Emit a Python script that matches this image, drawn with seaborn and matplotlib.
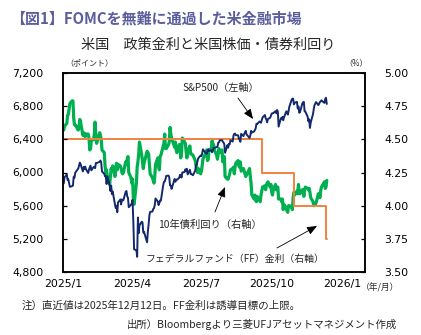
import numpy as np
import pandas as pd
import matplotlib
matplotlib.use("Agg")
import matplotlib.pyplot as plt
import seaborn as sns

# ---- data -------------------------------------------------------------
market_holidays = ["2025-01-09", "2025-01-20", "2025-02-17", "2025-04-18",
                   "2025-05-26", "2025-06-19", "2025-07-04", "2025-09-01",
                   "2025-11-27"]

# S&P500 daily close (points), month by month
sp500 = (
    [5868, 5942, 5975, 5909, 5918, 5827, 5836, 5842, 5950, 5937, 5997, 6049, 6086, 6119, 6101, 6012, 6067, 6039, 6071, 6040]
    + [5994, 6037, 6061, 6083, 6026, 6066, 6068, 6052, 6115, 6114, 6129, 6144, 6117, 6013, 5983, 5955, 5956, 5861, 5955]
    + [5850, 5778, 5842, 5739, 5770, 5615, 5572, 5599, 5521, 5639, 5675, 5615, 5675, 5663, 5668, 5767, 5777, 5712, 5693, 5581, 5612]
    + [5633, 5671, 5397, 5074, 5062, 4983, 5457, 5268, 5363, 5406, 5397, 5276, 5283, 5158, 5288, 5376, 5485, 5525, 5529, 5561, 5569]
    + [5604, 5687, 5650, 5607, 5631, 5664, 5660, 5844, 5886, 5892, 5917, 5958, 5963, 5940, 5845, 5842, 5802, 5922, 5889, 5913, 5912]
    + [5936, 5970, 5971, 5939, 6000, 6006, 6038, 6022, 6045, 5977, 6033, 5982, 5981, 5967, 6025, 6092, 6092, 6141, 6173, 6205]
    + [6198, 6227, 6279, 6230, 6226, 6263, 6280, 6259, 6269, 6244, 6264, 6297, 6297, 6305, 6309, 6359, 6363, 6388, 6390, 6371, 6362, 6339]
    + [6238, 6329, 6299, 6345, 6340, 6389, 6374, 6446, 6466, 6469, 6450, 6449, 6411, 6396, 6370, 6467, 6439, 6466, 6481, 6502, 6460]
    + [6416, 6448, 6502, 6482, 6495, 6512, 6532, 6588, 6584, 6615, 6607, 6600, 6632, 6664, 6693, 6657, 6638, 6605, 6644, 6661, 6688]
    + [6711, 6715, 6716, 6740, 6714, 6754, 6735, 6553, 6655, 6644, 6671, 6630, 6664, 6736, 6735, 6699, 6738, 6792, 6875, 6891, 6890, 6822, 6840]
    + [6852, 6772, 6796, 6720, 6729, 6832, 6846, 6851, 6738, 6734, 6672, 6617, 6642, 6538, 6603, 6705, 6766, 6813, 6849]
    + [6813, 6829, 6850, 6857, 6870, 6846, 6840, 6887, 6901, 6827]
)

# US 10-year Treasury yield (%), month by month
ust10y = (
    [4.57, 4.60, 4.62, 4.68, 4.69, 4.77, 4.79, 4.79, 4.66, 4.61, 4.61, 4.57, 4.60, 4.65, 4.63, 4.53, 4.55, 4.54, 4.52, 4.54]
    + [4.54, 4.51, 4.42, 4.43, 4.49, 4.50, 4.54, 4.63, 4.52, 4.47, 4.55, 4.53, 4.50, 4.42, 4.40, 4.30, 4.25, 4.27, 4.21]
    + [4.16, 4.22, 4.28, 4.26, 4.30, 4.22, 4.28, 4.32, 4.27, 4.31, 4.30, 4.28, 4.25, 4.24, 4.25, 4.33, 4.31, 4.35, 4.37, 4.25, 4.21]
    + [4.17, 4.20, 4.06, 4.01, 4.17, 4.29, 4.33, 4.39, 4.48, 4.38, 4.33, 4.28, 4.32, 4.41, 4.40, 4.39, 4.32, 4.24, 4.21, 4.19, 4.17]
    + [4.22, 4.31, 4.36, 4.30, 4.27, 4.37, 4.38, 4.45, 4.47, 4.54, 4.43, 4.43, 4.46, 4.48, 4.59, 4.54, 4.51, 4.44, 4.48, 4.42, 4.40]
    + [4.46, 4.46, 4.36, 4.39, 4.51, 4.48, 4.47, 4.41, 4.36, 4.41, 4.45, 4.39, 4.39, 4.38, 4.34, 4.30, 4.29, 4.25, 4.28, 4.24]
    + [4.26, 4.30, 4.35, 4.40, 4.42, 4.34, 4.35, 4.42, 4.43, 4.49, 4.46, 4.46, 4.42, 4.38, 4.35, 4.39, 4.43, 4.40, 4.42, 4.33, 4.37, 4.37]
    + [4.22, 4.20, 4.20, 4.22, 4.24, 4.27, 4.28, 4.29, 4.24, 4.29, 4.32, 4.34, 4.30, 4.29, 4.33, 4.26, 4.28, 4.26, 4.24, 4.22, 4.23]
    + [4.28, 4.22, 4.17, 4.08, 4.05, 4.08, 4.04, 4.03, 4.07, 4.04, 4.03, 4.08, 4.11, 4.14, 4.15, 4.12, 4.15, 4.17, 4.18, 4.14, 4.16]
    + [4.10, 4.08, 4.12, 4.16, 4.12, 4.13, 4.14, 4.05, 4.05, 4.03, 4.05, 3.97, 4.01, 3.98, 3.96, 3.95, 4.00, 4.00, 3.99, 3.97, 4.06, 4.10, 4.08]
    + [4.11, 4.09, 4.16, 4.09, 4.09, 4.12, 4.12, 4.07, 4.12, 4.14, 4.13, 4.12, 4.13, 4.10, 4.06, 4.03, 4.00, 4.00, 4.02]
    + [4.09, 4.09, 4.06, 4.11, 4.14, 4.17, 4.18, 4.13, 4.14, 4.19]
)

# Fed funds target (upper bound, %): effective dates of each level
ff_dates = ["2025-01-02", "2025-09-18", "2025-10-30", "2025-12-11"]
ff_levels = [4.50, 4.25, 4.00, 3.75]

xtick_dates = ["2025-01-01", "2025-04-01", "2025-07-01", "2025-10-01", "2026-01-01"]
xtick_labels = ["2025/1", "2025/4", "2025/7", "2025/10", "2026/1"]
left_ticks = [4800, 5200, 5600, 6000, 6400, 6800, 7200]
right_ticks = [3.50, 3.75, 4.00, 4.25, 4.50, 4.75, 5.00]

# ---- frames -----------------------------------------------------------
days = pd.bdate_range("2025-01-02", "2025-12-12")
days = days[~days.isin(pd.to_datetime(market_holidays))]
assert len(days) == len(sp500) == len(ust10y), (len(days), len(sp500), len(ust10y))

df = pd.DataFrame({"date": days, "sp500": sp500, "ust10y": ust10y})
ff = pd.Series(ff_levels, index=pd.to_datetime(ff_dates)).reindex(days, method="ffill")
df["ff"] = ff.values

# ---- style ------------------------------------------------------------
sns.set_style("white")
plt.rcParams["font.family"] = ["DejaVu Sans", "Noto Sans CJK JP"]
JP = ["Noto Sans CJK JP", "DejaVu Sans"]

NAVY = "#13296b"
GREEN = "#00b050"
ORANGE = "#f4813f"

fig = plt.figure(figsize=(4.21, 3.35), dpi=100)
W, H = 421, 335
L, R, T, B = 63, 365, 73, 272
ax = fig.add_axes([L / W, 1 - B / H, (R - L) / W, (B - T) / H])
ax2 = ax.twinx()

sns.lineplot(data=df, x="date", y="sp500", ax=ax, color=NAVY, linewidth=1.4, legend=False)
sns.lineplot(data=df, x="date", y="ust10y", ax=ax2, color=GREEN, linewidth=2.3, legend=False)
sns.lineplot(data=df, x="date", y="ff", ax=ax2, color=ORANGE, linewidth=1.4,
             drawstyle="steps-post", legend=False)

ax.set_xlim(pd.Timestamp("2025-01-01"), pd.Timestamp("2026-01-31"))
ax.set_ylim(4800, 7200)
ax2.set_ylim(3.5, 5.0)

ax.set_xticks(pd.to_datetime(xtick_dates))
ax.set_xticklabels(xtick_labels, fontsize=7.8)
ax.set_yticks(left_ticks)
ax.set_yticklabels([f"{v:,}" for v in left_ticks], fontsize=7.8)
ax2.set_yticks(right_ticks)
ax2.set_yticklabels([f"{v:.2f}" for v in right_ticks], fontsize=7.8)

for a in (ax, ax2):
    a.set_xlabel("")
    a.set_ylabel("")
    a.grid(False)
    for s in a.spines.values():
        s.set_color("black")
        s.set_linewidth(1.1)
ax.tick_params(axis="both", direction="in", length=3, width=0.9, colors="black",
               labelcolor="black", pad=5)
ax.tick_params(axis="y", pad=14)
ax2.tick_params(axis="y", direction="in", length=3, width=0.9, colors="black",
                labelcolor="black", pad=14)
ax.set_zorder(ax2.get_zorder() + 1)
ax.patch.set_visible(False)

# ---- annotations ------------------------------------------------------
arrow = dict(arrowstyle="-|>,head_length=0.6,head_width=0.25", color="black",
             lw=0.6, shrinkA=0, shrinkB=0)

def px(x, y):
    return (x / W, 1 - y / H)

fig.text(*px(182, 88), "S&P500（左軸）", family=JP, fontsize=7.3, va="center", ha="left")
ax.annotate("", xy=px(253, 119), xytext=px(238, 98), xycoords="figure fraction",
            textcoords="figure fraction", arrowprops=arrow)
fig.text(*px(158, 225), "10年債利回り（右軸）", family=JP, fontsize=7.4, va="center", ha="left")
ax.annotate("", xy=px(225, 187), xytext=px(215, 212), xycoords="figure fraction",
            textcoords="figure fraction", arrowprops=arrow)
fig.text(*px(146, 259), "フェデラルファンド（FF）金利（右軸）", family=JP, fontsize=7.1,
         va="center", ha="left")
ax.annotate("", xy=px(317, 226), xytext=px(277, 248), xycoords="figure fraction",
            textcoords="figure fraction", arrowprops=arrow)

# ---- titles and notes -------------------------------------------------
fig.text(*px(10, 18), "【図1】FOMCを無難に通過した米金融市場", family=JP, fontsize=10.8,
         fontweight="bold", color="#5b5e9c", va="center", ha="left")
fig.text(*px(208, 45), "米国　政策金利と米国株価・債券利回り", family=JP, fontsize=10.2,
         va="center", ha="center")
fig.text(*px(89, 63), "（ポイント）", family=JP, fontsize=5.8, va="center", ha="center")
fig.text(*px(356, 63), "（%）", family=JP, fontsize=5.8, va="center", ha="center")
fig.text(*px(380, 288), "（年/月）", family=JP, fontsize=6.3, va="center", ha="center")
fig.text(*px(22, 306), "注）直近値は2025年12月12日。FF金利は誘導目標の上限。", family=JP,
         fontsize=7.6, va="center", ha="left")
fig.text(*px(397, 325), "出所）Bloombergより三菱UFJアセットマネジメント作成", family=JP,
         fontsize=7.5, va="center", ha="right")

fig.savefig("out.png", dpi=100)
